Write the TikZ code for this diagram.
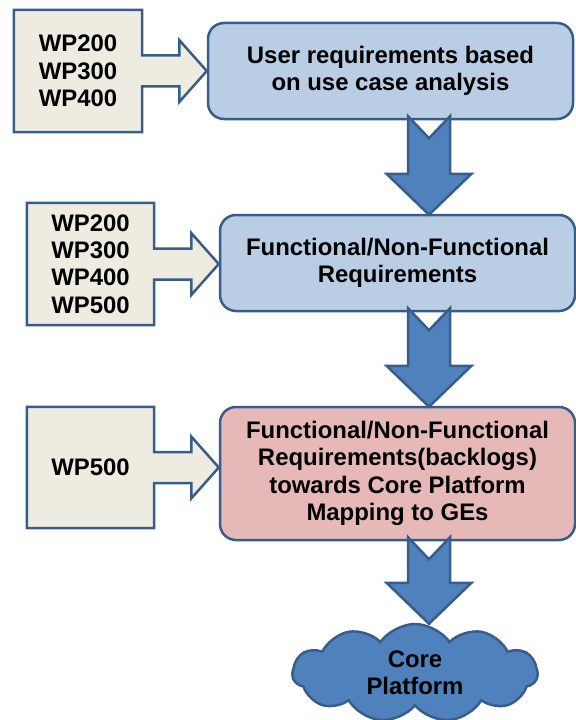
\documentclass[tikz,border=0pt]{standalone}
\usepackage{fontspec}
\setmainfont{Liberation Sans}
\usetikzlibrary{calc,shapes.symbols,backgrounds}

\definecolor{wpfill}{HTML}{EEECE1}
\definecolor{edgeblue}{HTML}{385D8A}
\definecolor{reqfill}{HTML}{B9CDE5}
\definecolor{mapfill}{HTML}{E6B9B8}
\definecolor{flowfill}{HTML}{4F81BD}

\tikzset{
  boxfont/.style={font=\bfseries\fontsize{24}{27.5}\selectfont},
  reqbox/.style={boxfont, draw=edgeblue, line width=2.5bp, rounded corners=16bp,
    fill=reqfill, align=center, inner sep=0pt},
  wptext/.style={boxfont, align=center, inner sep=0pt},
  wpshape/.style={draw=edgeblue, line width=2.5bp, fill=wpfill, line join=miter},
  flowarrow/.style={draw=edgeblue, line width=2.5bp, fill=flowfill, line join=miter},
}

% callout box #1 pointing at node #2
\newcommand{\wpcallout}[2]{%
  \begin{pgfonlayer}{background}
  \draw[wpshape] (#1.north west) -- (#1.north east) -- ($(#1.east)+(0,-15.5)$)
    -- ($(#1.east -| #2.west)+(-27.5,-15.5)$) -- ($(#1.east -| #2.west)+(-27.5,-31)$)
    -- (#1.east -| #2.west)
    -- ($(#1.east -| #2.west)+(-27.5,31)$) -- ($(#1.east -| #2.west)+(-27.5,15.5)$)
    -- ($(#1.east)+(0,15.5)$) -- (#1.south east) -- (#1.south west) -- cycle;
  \end{pgfonlayer}}

% notched block arrow from node #1 down to node #2
\newcommand{\notchedarrow}[2]{%
  \draw[flowarrow] ($(axis |- #1.south)+(-21,-4)$) -- ($(axis |- #1.south)+(0,18)$)
    -- ($(axis |- #1.south)+(21,-4)$) -- ($(axis |- #2.north)+(21,-40)$)
    -- ($(axis |- #2.north)+(42.5,-40)$) -- ($(axis |- #2.north)+(0,1)$)
    -- ($(axis |- #2.north)+(-42.5,-40)$) -- ($(axis |- #2.north)+(-21,-40)$) -- cycle;}

\begin{document}
\begin{tikzpicture}[x=1bp,y=-1bp]
  \useasboundingbox (0,0) rectangle (576,720);
  \coordinate (axis) at (429,0);

  %%%%% requirement boxes %%%%%
  \node[reqbox, minimum width=365bp, minimum height=96bp] (userreq) at (390.5,71)
    {User requirements based\\on use case analysis};
  \node[reqbox, minimum width=355bp, minimum height=96bp] (funcreq) at (397.5,263)
    {Functional/Non-Functional\\Requirements};
  \node[reqbox, fill=mapfill, minimum width=355bp, minimum height=133bp] (mapreq) at (397.5,473.5)
    {Functional/Non-Functional\\Requirements(backlogs)\\towards Core Platform\\Mapping to GEs};

  %%%%% work packages %%%%%
  \node[wptext, minimum width=128bp, minimum height=122bp] (wpuser) at (78,71)
    {WP200\\WP300\\WP400};
  \node[wptext, minimum width=127bp, minimum height=122bp] (wpfunc) at (90.5,264)
    {WP200\\WP300\\WP400\\WP500};
  \node[wptext, minimum width=127bp, minimum height=121bp] (wpmap) at (90.5,467.5)
    {WP500};
  \wpcallout{wpuser}{userreq}
  \wpcallout{wpfunc}{funcreq}
  \wpcallout{wpmap}{mapreq}

  %%%%% core platform %%%%%
  \node[cloud, boxfont, draw=edgeblue, line width=2.5bp, fill=flowfill, cloud puffs=11,
    cloud puff arc=110, aspect=2.5, minimum width=245bp, minimum height=98bp,
    align=center, inner sep=0pt] (core) at (415,673) {Core\\Platform};

  \notchedarrow{userreq}{funcreq}
  \notchedarrow{funcreq}{mapreq}
  \notchedarrow{mapreq}{core}
\end{tikzpicture}
\end{document}
